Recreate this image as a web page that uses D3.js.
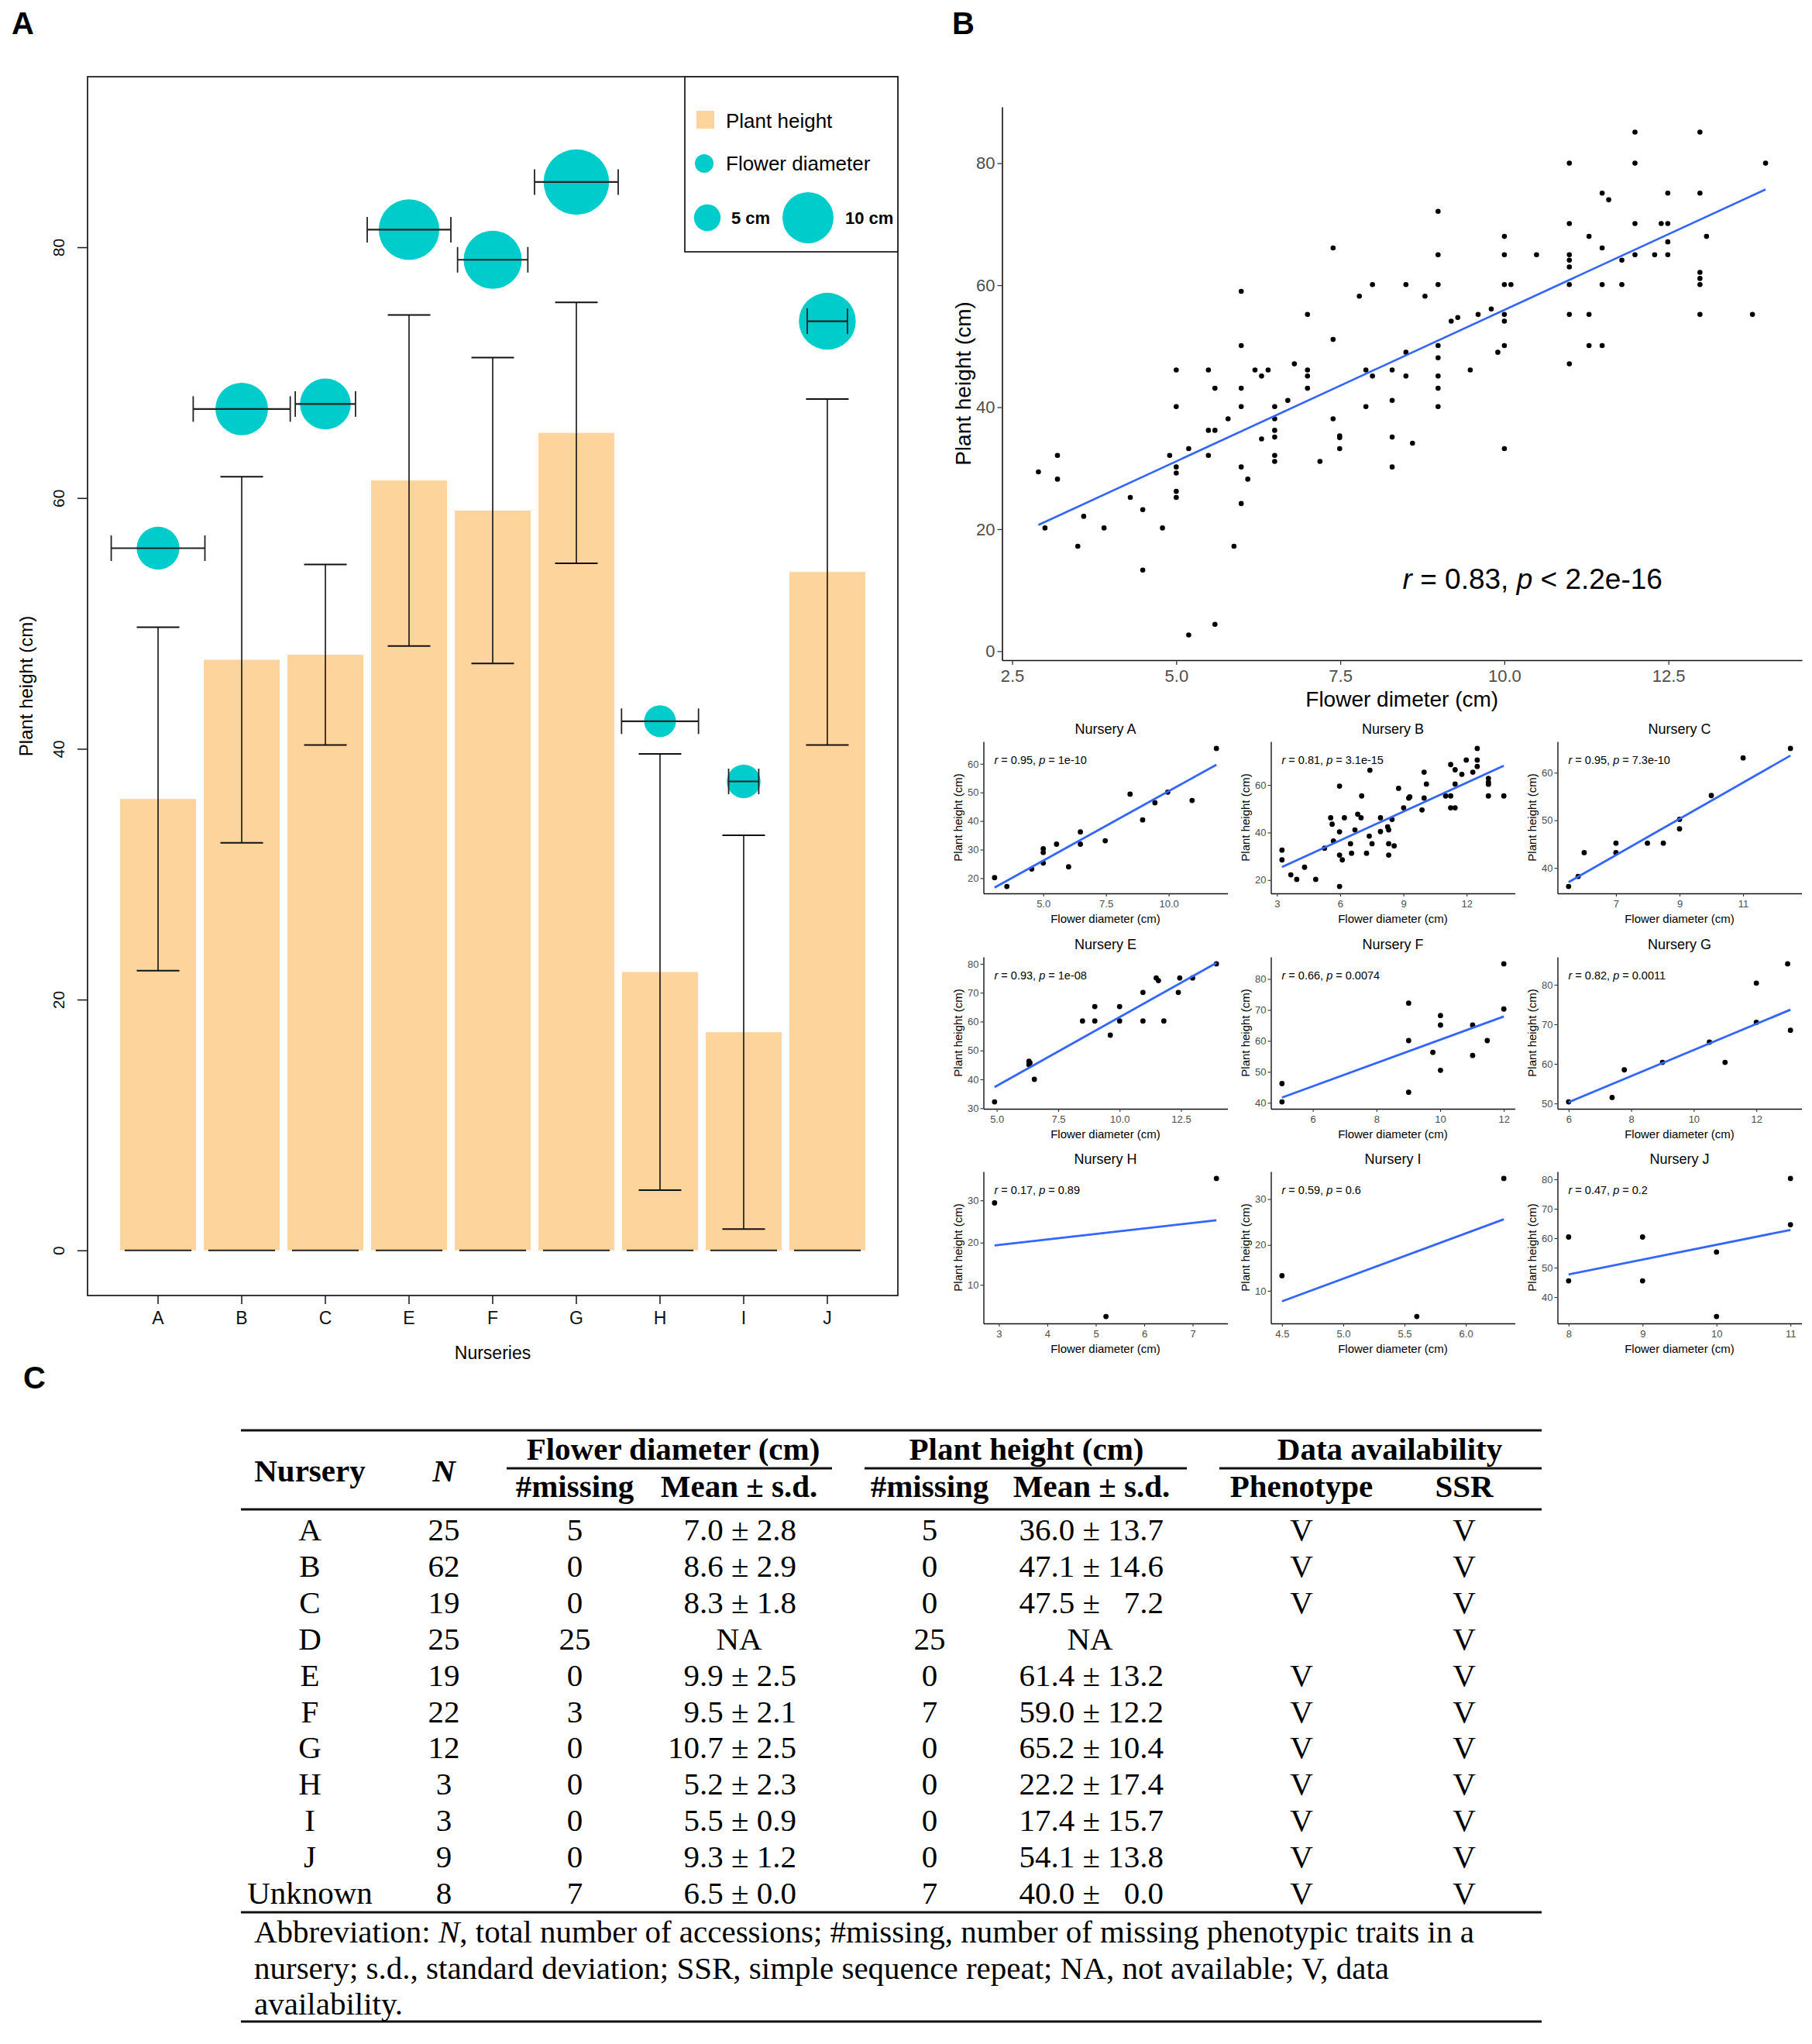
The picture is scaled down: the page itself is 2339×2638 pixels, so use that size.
<!DOCTYPE html>
<html>
<head>
<meta charset="utf-8">
<script src="https://cdn.jsdelivr.net/npm/d3@7"></script>
<style>
  body { margin: 0; background: #fff; }
</style>
</head>
<body>
<script>
// ---------------- data (table C) ----------------
const tableNurseries = ["A", "B", "C", "D", "E", "F", "G", "H", "I", "J", "Unknown"];
const tableN = [25, 62, 19, 25, 19, 22, 12, 3, 3, 9, 8];
const flowerMissing = [5, 0, 0, 25, 0, 3, 0, 0, 0, 0, 7];
const flowerMean = [7.0, 8.6, 8.3, null, 9.9, 9.5, 10.7, 5.2, 5.5, 9.3, 6.5];
const flowerSd = [2.8, 2.9, 1.8, null, 2.5, 2.1, 2.5, 2.3, 0.9, 1.2, 0.0];
const heightMissing = [5, 0, 0, 25, 0, 7, 0, 0, 0, 0, 7];
const heightMean = [36.0, 47.1, 47.5, null, 61.4, 59.0, 65.2, 22.2, 17.4, 54.1, 40.0];
const heightSd = [13.7, 14.6, 7.2, null, 13.2, 12.2, 10.4, 17.4, 15.7, 13.8, 0.0];
const phenotypeAvail = [1, 1, 1, 0, 1, 1, 1, 1, 1, 1, 1];
const ssrAvail = [1, 1, 1, 1, 1, 1, 1, 1, 1, 1, 1];

// ---------------- data (panel A) ----------------
const barNurseries = ["A", "B", "C", "E", "F", "G", "H", "I", "J"];
const barTicks = [0, 20, 40, 60, 80];
const circleOffset = 20;           // flower symbols sit 20 cm above the bar
const legendSizes = [5, 10];

// ---------------- data (panel B, all accessions) ----------------
const allPoints = [
  [2.9,29.4],[3.0,20.2],[3.19,32.1],[3.19,28.2],[3.5,17.2],[3.59,22.1],[3.9,20.2],[4.3,25.2],[4.49,23.2],[4.49,13.3],[4.79,20.2],[4.9,32.1],
  [5.0,46.1],[5.0,40.1],[5.0,30.2],[5.0,29.2],[5.0,26.2],[5.0,25.2],[5.19,33.2],[5.19,2.65],
  [5.49,46.1],[5.49,36.2],[5.49,32.1],[5.59,43.1],[5.59,36.2],[5.59,4.4],[5.79,38.1],[5.88,17.2],
  [5.99,59.0],[5.99,50.1],[5.99,43.1],[5.99,40.1],[5.99,30.2],[5.99,24.2],[6.09,28.2],[6.2,46.1],[6.3,45.1],[6.3,34.8],[6.4,46.1],
  [6.5,40.1],[6.5,38.1],[6.5,36.2],[6.5,35.1],[6.5,32.1],[6.5,31.1],[6.7,41.1],[6.8,47.1],
  [7.0,55.2],[7.0,46.1],[7.0,45.1],[7.0,43.1],[7.19,31.1],[7.39,66.1],[7.39,51.1],[7.39,38.1],[7.49,35.3],[7.49,35.0],[7.49,33.2],
  [7.79,58.2],[7.89,46.1],[7.89,40.1],[7.99,60.1],[7.99,45.1],
  [8.29,46.1],[8.29,41.1],[8.29,35.1],[8.29,30.2],[8.5,60.1],[8.5,49.0],[8.5,45.1],[8.6,34.1],[8.79,58.2],
  [8.99,72.1],[8.99,65.0],[8.99,60.1],[8.99,50.1],[8.99,48.1],[8.99,45.1],[8.99,43.1],[8.99,40.1],
  [9.19,54.1],[9.29,54.7],[9.48,46.1],[9.6,55.2],[9.8,56.1],[9.9,49.0],
  [10.0,68.0],[10.0,65.0],[10.0,60.1],[10.0,55.2],[10.0,54.1],[10.0,50.1],[10.0,33.2],[10.1,60.1],[10.49,65.0],
  [10.99,80.0],[10.99,70.1],[10.99,65.0],[10.99,64.1],[10.99,63.0],[10.99,60.1],[10.99,55.2],[10.99,47.1],
  [11.29,68.0],[11.29,55.2],[11.29,50.1],[11.49,75.1],[11.49,66.1],[11.49,60.1],[11.49,50.1],[11.59,74.0],[11.79,64.1],[11.79,60.1],
  [11.99,85.1],[11.99,80.0],[11.99,70.1],[11.99,65.0],[12.29,65.0],[12.39,70.1],[12.49,75.1],[12.49,70.1],[12.49,67.1],[12.49,65.0],
  [12.98,85.1],[12.98,75.1],[12.98,62.1],[12.98,61.1],[12.98,60.1],[12.98,55.2],[13.08,68.0],[13.78,55.2],[13.98,80.0]
];
const allFit = [20.7, 75.7];       // fitted height at min / max diameter
const allXTicks = [2.5, 5, 7.5, 10, 12.5];
const allYTicks = [0, 20, 40, 60, 80];
const allLabelAt = [8.45, 10.2];

// ---------------- data (panel B, per nursery) ----------------
const ptsA = [[3.06,20.2],[3.55,17.1],[4.54,23.2],[5.0,25.3],[5.0,30.3],[5.0,29.0],[5.53,31.9],[6.01,24.0],[6.48,36.2],[6.48,31.9],[7.47,33.1],[8.46,49.4],[8.96,40.4],[9.45,46.4],[9.96,50.1],[10.93,47.2],[11.9,65.4]];
const ptsB = [[3.24,32.6],[3.24,28.5],[3.66,22.2],[3.94,20.3],[4.31,25.4],[4.84,20.3],[5.26,33.4],[5.55,46.2],[5.62,43.5],[5.68,36.4],
  [5.97,59.5],[5.97,40.3],[5.97,30.5],[5.97,17.3],[6.1,28.5],[6.2,46.2],[6.49,35.3],[6.54,31.3],[6.7,41.1],[6.83,47.7],[6.99,46.2],[7.02,55.4],
  [7.38,38.5],[7.41,66.2],[7.51,35.3],[7.25,31.3],[7.91,40.4],[7.91,46.2],[8.25,42.4],[8.3,41.1],[8.3,35.3],[8.3,30.5],[8.46,45.5],[8.56,34.4],
  [8.77,58.6],[9.01,50.4],[9.25,54.5],[9.3,55.0],[9.88,49.5],[9.98,65.4],[9.98,54.5],[10.09,60.4],[11.0,55.4],[11.24,68.6],[11.24,55.4],[11.24,50.4],
  [11.45,50.4],[11.45,60.4],[11.45,66.4],[11.77,64.5],[11.98,70.5],[12.29,65.4],[12.5,75.4],[12.5,70.5],[12.5,67.8],
  [13.03,62.8],[13.03,61.2],[13.03,60.3],[13.03,55.4],[13.76,55.4]];
const ptsC = [[5.51,36.1],[5.81,38.2],[6.0,43.2],[7.0,45.2],[7.0,43.2],[7.99,45.2],[8.49,45.2],[9.0,50.2],[9.0,48.2],[10.0,55.2],[11.0,63.1],[12.49,65.1]];
const ptsE = [[4.91,32.2],[6.31,46.3],[6.35,45.7],[6.31,45.1],[6.53,40.0],[8.49,60.2],[8.99,65.2],[8.99,60.2],[9.62,55.3],[10.0,65.2],[10.0,60.2],
  [10.95,70.1],[10.95,60.2],[11.49,75.1],[11.58,74.2],[11.8,60.2],[12.39,70.1],[12.45,75.1],[12.97,75.1],[13.94,80.0]];
const ptsF = [[5.03,46.2],[5.03,40.3],[9.01,72.2],[9.01,60.1],[9.01,43.4],[9.77,56.3],[10.01,68.2],[10.01,65.1],[10.01,50.5],[11.02,65.1],[11.02,55.3],[11.48,60.1],[12.0,84.9],[12.0,70.3]];
const ptsG = [[6.0,50.4],[7.39,51.5],[7.78,58.5],[9.0,60.4],[10.5,65.5],[11.0,60.4],[12.0,80.4],[12.0,70.5],[13.0,85.3],[13.09,68.5]];
const ptsH = [[2.91,29.4],[5.21,2.5],[7.49,35.2]];
const ptsI = [[4.5,13.3],[5.6,4.4],[6.31,34.5]];
const ptsJ = [[8.0,60.4],[8.0,45.5],[9.0,60.4],[9.0,45.5],[10.0,55.3],[10.0,33.4],[11.0,80.3],[11.0,64.6]];

const panelNames = ["A", "B", "C", "E", "F", "G", "H", "I", "J"];
const panelPoints = [ptsA, ptsB, ptsC, ptsE, ptsF, ptsG, ptsH, ptsI, ptsJ];
const panelFits = [[16.7,59.7],[25.5,68.1],[37.0,63.6],[37.3,80.3],[41.7,67.9],[50.3,73.7],[19.35,25.3],[7.7,25.6],[47.7,62.8]];
const panelR = ["0.95", "0.81", "0.95", "0.93", "0.66", "0.82", "0.17", "0.59", "0.47"];
const panelP = ["1e-10", "3.1e-15", "7.3e-10", "1e-08", "0.0074", "0.0011", "0.89", "0.6", "0.2"];
const panelXTicks = [[5,7.5,10],[3,6,9,12],[7,9,11],[5,7.5,10,12.5],[6,8,10,12],[6,8,10,12],[3,4,5,6,7],[4.5,5,5.5,6],[8,9,10,11]];
const panelYTicks = [[20,30,40,50,60],[20,40,60],[40,50,60],[30,40,50,60,70,80],[40,50,60,70,80],[50,60,70,80],[10,20,30],[10,20,30],[40,50,60,70,80]];

// ---------------- style ----------------
const SANS = "'Liberation Sans', Arial, sans-serif";
const SERIF = "'Liberation Serif', 'Times New Roman', serif";
const BAR_FILL = "#FCD49C";
const TEAL = "#00CCCC";
const LINE_BLUE = "#3366FF";
const GREY_TEXT = "#4D4D4D";

const svg = d3.select("body").append("svg")
    .attr("width", 2339)
    .attr("height", 2638)
    .style("font-family", SANS);

// panel letters
[["A", 15, 44], ["B", 1229, 44], ["C", 30, 1792]].forEach(function (d) {
    svg.append("text")
        .attr("x", d[1]).attr("y", d[2])
        .style("font-size", "40px")
        .style("font-weight", "bold")
        .text(d[0]);
});

// =================== panel A ===================
const boxA = {left: 113, top: 99, right: 1159, bottom: 1672};
const idx = n => tableNurseries.indexOf(n);

const xBar = d3.scaleBand()
    .domain(barNurseries)
    .range([boxA.left, boxA.right])
    .paddingInner(0.094)
    .paddingOuter(0.39);
const yBar = d3.scaleLinear()
    .domain([-3.6, 93.6])
    .range([boxA.bottom, boxA.top]);
// symbol radius grows with the mean flower diameter
const rFlower = d3.scaleLinear().domain([0, 10]).range([0, 39.5]);
// horizontal s.d. bars: one bar step stands for 5 cm
const cmWidth = d3.scaleLinear().domain([0, 5]).range([0, xBar.step()]);
const rLegend = d3.scaleLinear().domain([0, 10]).range([1.5, 33]);

let gA = svg.append("g");
const cx = n => xBar(n) + xBar.bandwidth() / 2;

gA.selectAll("rect.bar")
    .data(barNurseries)
    .enter()
    .append("rect")
    .attr("class", "bar")
    .attr("x", d => xBar(d))
    .attr("width", xBar.bandwidth())
    .attr("y", d => yBar(heightMean[idx(d)]))
    .attr("height", d => yBar(0) - yBar(heightMean[idx(d)]))
    .attr("fill", BAR_FILL);

// baseline stubs under every bar
gA.selectAll("line.base")
    .data(barNurseries)
    .enter()
    .append("line")
    .attr("x1", d => cx(d) - xBar.bandwidth() * 0.44)
    .attr("x2", d => cx(d) + xBar.bandwidth() * 0.44)
    .attr("y1", yBar(0)).attr("y2", yBar(0))
    .attr("stroke", "#222").attr("stroke-width", 2.2);

// height error bars
barNurseries.forEach(function (n) {
    let m = heightMean[idx(n)], s = heightSd[idx(n)], c = cx(n), cap = 27.5;
    gA.append("line").attr("x1", c).attr("x2", c)
        .attr("y1", yBar(m - s)).attr("y2", yBar(m + s))
        .attr("stroke", "#111").attr("stroke-width", 1.6);
    [m - s, m + s].forEach(function (v) {
        gA.append("line").attr("x1", c - cap).attr("x2", c + cap)
            .attr("y1", yBar(v)).attr("y2", yBar(v))
            .attr("stroke", "#111").attr("stroke-width", 2);
    });
});

// flower diameter symbols
gA.selectAll("circle.flower")
    .data(barNurseries)
    .enter()
    .append("circle")
    .attr("class", "flower")
    .attr("cx", d => cx(d))
    .attr("cy", d => yBar(heightMean[idx(d)] + circleOffset))
    .attr("r", d => rFlower(flowerMean[idx(d)]))
    .attr("fill", TEAL);

barNurseries.forEach(function (n) {
    let c = cx(n), cy = yBar(heightMean[idx(n)] + circleOffset), h = cmWidth(flowerSd[idx(n)]);
    gA.append("line").attr("x1", c - h).attr("x2", c + h).attr("y1", cy).attr("y2", cy)
        .attr("stroke", "#222").attr("stroke-width", 2.2);
    [c - h, c + h].forEach(function (xv) {
        gA.append("line").attr("x1", xv).attr("x2", xv).attr("y1", cy - 16.5).attr("y2", cy + 16.5)
            .attr("stroke", "#222").attr("stroke-width", 1.8);
    });
});

// frame
gA.append("rect")
    .attr("x", boxA.left).attr("y", boxA.top)
    .attr("width", boxA.right - boxA.left).attr("height", boxA.bottom - boxA.top)
    .attr("fill", "none").attr("stroke", "#222").attr("stroke-width", 1.8);

// axes
let ayA = gA.append("g")
    .attr("transform", "translate(" + boxA.left + ",0)")
    .call(d3.axisLeft(yBar).tickValues(barTicks).tickSize(13).tickFormat(d3.format("d")));
ayA.select(".domain").remove();
ayA.selectAll(".tick line").attr("stroke", "#222").attr("stroke-width", 1.6);
ayA.selectAll("text")
    .attr("x", null).attr("dy", null)
    .attr("transform", "translate(-30,0) rotate(-90)")
    .style("text-anchor", "middle")
    .style("font-size", "21px")
    .style("font-family", SANS)
    .attr("fill", "#111");

let axA = gA.append("g")
    .attr("transform", "translate(0," + boxA.bottom + ")")
    .call(d3.axisBottom(xBar).tickSize(11).tickPadding(10));
axA.select(".domain").remove();
axA.selectAll(".tick line").attr("stroke", "#222").attr("stroke-width", 1.6);
axA.selectAll("text").style("font-size", "23px").style("font-family", SANS).attr("fill", "#111");

gA.append("text")
    .attr("x", (boxA.left + boxA.right) / 2).attr("y", 1754)
    .style("text-anchor", "middle").style("font-size", "23px")
    .text("Nurseries");
gA.append("text")
    .attr("transform", "translate(42," + (boxA.top + boxA.bottom) / 2 + ") rotate(-90)")
    .style("text-anchor", "middle").style("font-size", "24px")
    .text("Plant height (cm)");

// legend
let lg = gA.append("g");
lg.append("rect").attr("x", 884).attr("y", boxA.top).attr("width", boxA.right - 884).attr("height", 226)
    .attr("fill", "#fff").attr("stroke", "#222").attr("stroke-width", 1.8);
lg.append("rect").attr("x", 899).attr("y", 143).attr("width", 23).attr("height", 23).attr("fill", BAR_FILL);
lg.append("text").attr("x", 937).attr("y", 165).style("font-size", "26px").text("Plant height");
lg.append("circle").attr("cx", 909).attr("cy", 211).attr("r", 12).attr("fill", TEAL);
lg.append("text").attr("x", 937).attr("y", 220).style("font-size", "26px").text("Flower diameter");
const legendX = [913, 1043], legendTextX = [944, 1091];
legendSizes.forEach(function (s, i) {
    lg.append("circle").attr("cx", legendX[i]).attr("cy", 281).attr("r", rLegend(s)).attr("fill", TEAL);
    lg.append("text").attr("x", legendTextX[i]).attr("y", 289)
        .style("font-size", "22px").style("font-weight", "600").text(s + " cm");
});

// =================== panel B ===================
function drawScatter(o) {
    let g = svg.append("g");
    let xe = d3.extent(o.pts, d => d[0]), ye = d3.extent(o.pts, d => d[1]);
    let xp = (xe[1] - xe[0]) * 0.05, yp = (ye[1] - ye[0]) * 0.05;
    let x = d3.scaleLinear().domain([xe[0] - xp, xe[1] + xp]).range([o.left, o.left + o.width]);
    let y = d3.scaleLinear().domain([ye[0] - yp, ye[1] + yp]).range([o.top + o.height, o.top]);
    let fmt = o.xTicks.some(t => t % 1 !== 0) ? d3.format(".1f") : d3.format("d");

    let ax = g.append("g")
        .attr("transform", "translate(0," + (o.top + o.height) + ")")
        .call(d3.axisBottom(x).tickValues(o.xTicks).tickFormat(fmt)
            .tickSize(o.tick).tickSizeOuter(0).tickPadding(o.xPad));
    let ay = g.append("g")
        .attr("transform", "translate(" + o.left + ",0)")
        .call(d3.axisLeft(y).tickValues(o.yTicks).tickFormat(d3.format("d"))
            .tickSize(o.tick).tickSizeOuter(0).tickPadding(o.yPad));
    [ax, ay].forEach(function (a) {
        a.attr("font-family", null).attr("font-size", null);
        a.select(".domain").attr("stroke", "#111").attr("stroke-width", o.axisW);
        a.selectAll(".tick line").attr("stroke", "#333").attr("stroke-width", o.axisW * 0.8);
        a.selectAll("text").attr("fill", GREY_TEXT).style("font-size", o.tickFont + "px").style("font-family", SANS);
    });

    g.selectAll("circle")
        .data(o.pts)
        .enter()
        .append("circle")
        .attr("cx", d => x(d[0]))
        .attr("cy", d => y(d[1]))
        .attr("r", o.r)
        .attr("fill", "#000");

    g.append("path")
        .datum([[xe[0], o.fit[0]], [xe[1], o.fit[1]]])
        .attr("fill", "none")
        .attr("stroke", LINE_BLUE)
        .attr("stroke-width", o.lineW)
        .attr("d", d3.line().x(d => x(d[0])).y(d => y(d[1])));

    g.append("text")
        .attr("x", o.left + o.width / 2).attr("y", o.top + o.height + o.xTitleDy)
        .style("text-anchor", "middle").style("font-size", o.titleFont + "px")
        .text(o.xTitle);
    g.append("text")
        .attr("transform", "translate(" + (o.left - o.yTitleDx) + "," + (o.top + o.height / 2) + ") rotate(-90)")
        .style("text-anchor", "middle").style("font-size", o.titleFont + "px")
        .text("Plant height (cm)");

    let lx = o.labelAt ? x(o.labelAt[0]) : o.left + 14;
    let ly = o.labelAt ? y(o.labelAt[1]) : o.top + 29;
    let t = g.append("text").attr("x", lx).attr("y", ly).style("font-size", o.labelFont + "px");
    t.append("tspan").style("font-style", "italic").text("r");
    t.append("tspan").text(" = " + o.r2 + ", ");
    t.append("tspan").style("font-style", "italic").text("p");
    t.append("tspan").text(" " + o.pSign + " " + o.p);

    if (o.title) {
        g.append("text")
            .attr("x", o.left + o.width / 2).attr("y", o.top - 10)
            .style("text-anchor", "middle").style("font-size", "18px")
            .text(o.title);
    }
}

drawScatter({
    pts: allPoints, fit: allFit, xTicks: allXTicks, yTicks: allYTicks,
    left: 1293.5, top: 138, width: 1032.5, height: 714,
    tick: 6, xPad: 6, yPad: 3, axisW: 1.6, tickFont: 22, r: 3.3, lineW: 2.6,
    xTitle: "Flower dimeter (cm)", titleFont: 28, xTitleDy: 60, yTitleDx: 41,
    labelAt: allLabelAt, labelFont: 37, r2: "0.83", pSign: "<", p: "2.2e-16"
});

const colLeft = [1269.5, 1640.5, 2010.5];
const rowTop = [957, 1235, 1512];
panelNames.forEach(function (n, i) {
    drawScatter({
        pts: panelPoints[i], fit: panelFits[i], xTicks: panelXTicks[i], yTicks: panelYTicks[i],
        left: colLeft[i % 3], top: rowTop[Math.floor(i / 3)], width: 315, height: 196,
        tick: 4, xPad: 5, yPad: 2, axisW: 1.4, tickFont: 13, r: 3.4, lineW: 2.8,
        xTitle: "Flower diameter (cm)", titleFont: 15, xTitleDy: 38, yTitleDx: 27.5,
        labelFont: 14.5, r2: panelR[i], pSign: "=", p: panelP[i],
        title: "Nursery " + n
    });
});

// =================== panel C (table) ===================
const T = {left: 311, right: 1990, rule0: 1846, head: 1948, row0: 1988, step: 46.9, bottom: 2468, end: 2609};
const colX = {nursery: 400, n: 573, fMiss: 742, fMid: 954, fRight: 1028, hMiss: 1200, hMid: 1407, hRight: 1502, pheno: 1680, ssr: 1890};
let gT = svg.append("g").style("font-family", SERIF).style("font-size", "41px");

function rule(x1, x2, yv, w) {
    gT.append("line").attr("x1", x1).attr("x2", x2).attr("y1", yv).attr("y2", yv)
        .attr("stroke", "#111").attr("stroke-width", w);
}
rule(T.left, T.right, T.rule0, 3.2);
rule(654, 1074, 1895, 2.8);
rule(1116, 1532, 1895, 2.8);
rule(1574, T.right, 1895, 2.8);
rule(T.left, T.right, T.head, 3.2);
rule(T.left, T.right, T.bottom, 3.2);
rule(T.left, T.right, T.end, 3.2);

function cell(x, yv, txt, anchor, opts) {
    let t = gT.append("text").attr("x", x).attr("y", yv)
        .style("text-anchor", anchor || "middle")
        .style("white-space", "pre")
        .text(txt);
    if (opts && opts.bold) t.style("font-weight", "bold");
    if (opts && opts.italic) t.style("font-style", "italic");
    return t;
}
cell(colX.nursery, 1912, "Nursery", "middle", {bold: true});
cell(colX.n, 1912, "N", "middle", {bold: true, italic: true});
cell(869, 1884, "Flower diameter (cm)", "middle", {bold: true});
cell(1325, 1884, "Plant height (cm)", "middle", {bold: true});
cell(1794, 1884, "Data availability", "middle", {bold: true});
cell(colX.fMiss, 1932, "#missing", "middle", {bold: true});
cell(colX.fMid, 1932, "Mean \u00b1 s.d.", "middle", {bold: true});
cell(colX.hMiss, 1932, "#missing", "middle", {bold: true});
cell(colX.hMid + 2, 1932, "Mean \u00b1 s.d.", "middle", {bold: true});
cell(colX.pheno, 1932, "Phenotype", "middle", {bold: true});
cell(colX.ssr, 1932, "SSR", "middle", {bold: true});

const f1 = d3.format(".1f");
const pad = v => (v < 10 ? "\u2007" : "") + f1(v);
tableNurseries.forEach(function (n, i) {
    let yv = T.row0 + i * T.step;
    cell(colX.nursery, yv, n);
    cell(colX.n, yv, String(tableN[i]));
    cell(colX.fMiss, yv, String(flowerMissing[i]));
    if (flowerMean[i] === null) cell(colX.fMid, yv, "NA");
    else cell(colX.fRight, yv, f1(flowerMean[i]) + " \u00b1 " + f1(flowerSd[i]), "end");
    cell(colX.hMiss, yv, String(heightMissing[i]));
    if (heightMean[i] === null) cell(colX.hMid, yv, "NA");
    else cell(colX.hRight, yv, f1(heightMean[i]) + " \u00b1 " + pad(heightSd[i]), "end");
    if (phenotypeAvail[i]) cell(colX.pheno, yv, "V");
    if (ssrAvail[i]) cell(colX.ssr, yv, "V");
});

let fn = gT.append("text").attr("x", 328).attr("y", 2507);
fn.append("tspan").text("Abbreviation: ");
fn.append("tspan").style("font-style", "italic").text("N");
fn.append("tspan").text(", total number of accessions; #missing, number of missing phenotypic traits in a");
cell(328, 2554, "nursery; s.d., standard deviation; SSR, simple sequence repeat; NA, not available; V, data", "start");
cell(328, 2600, "availability.", "start");
</script>
</body>
</html>
